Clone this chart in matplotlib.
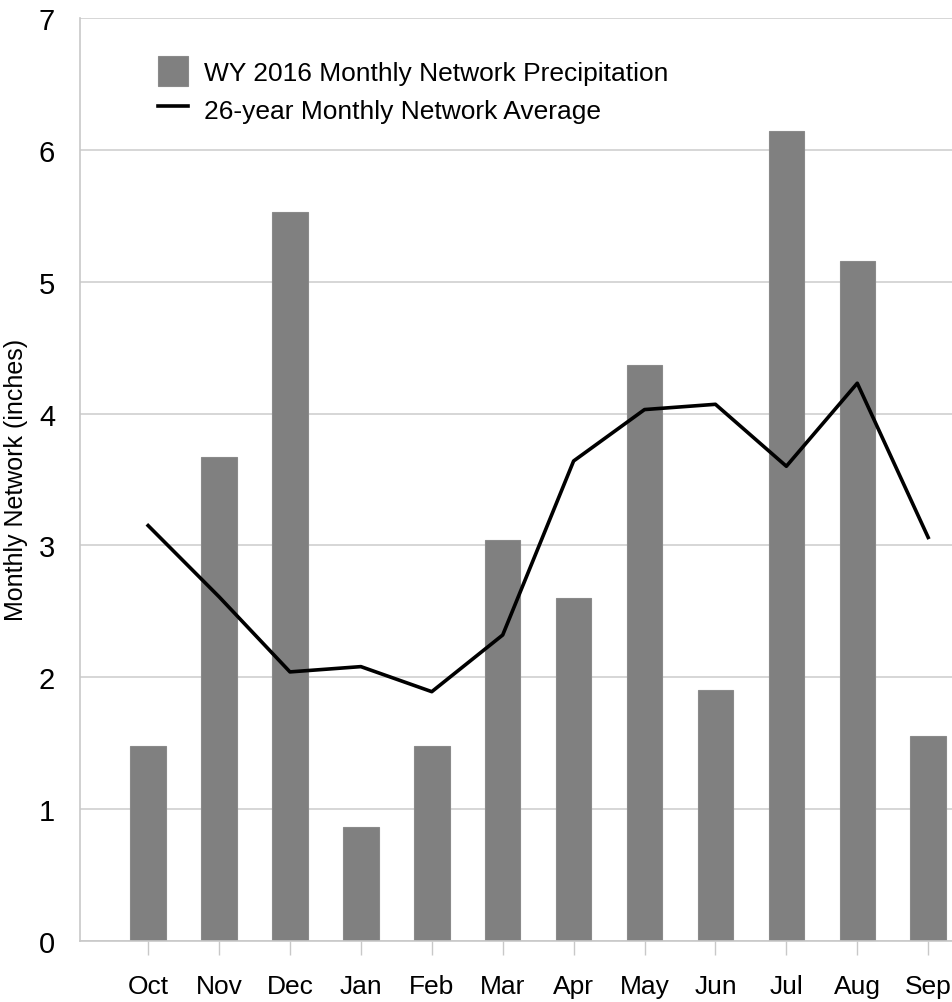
import matplotlib.pyplot as plt
import numpy as np

plt.rcParams["font.family"] = ["Liberation Sans", "DejaVu Sans"]

# ------------------------------------------------------------
# DATA
# ------------------------------------------------------------
meses = ["Oct", "Nov", "Dec", "Jan", "Feb", "Mar",
         "Apr", "May", "Jun", "Jul", "Aug", "Sep"]
wy2016 = [1.48, 3.67, 5.53, 0.86, 1.48, 3.04,
          2.60, 4.37, 1.90, 6.14, 5.16, 1.55]
media_26 = [3.15, 2.61, 2.04, 2.08, 1.89, 2.32,
            3.64, 4.03, 4.07, 3.60, 4.23, 3.06]

# ------------------------------------------------------------
# PLOT
# ------------------------------------------------------------
fig = plt.figure(figsize=(9.53, 10.03), dpi=100)
ax = fig.add_axes([0.084, 0.061, 0.916, 0.920])

x = np.arange(len(meses))

barras = ax.bar(x, wy2016, width=0.5, color="#808080", edgecolor="#8a8a8a",
                linewidth=0.8, zorder=2)
linha, = ax.plot(x, media_26, color="black", linewidth=2.6, zorder=3)

ax.set_xlim(-0.96, 11.35)
ax.set_ylim(0, 7)
ax.set_xticks(x)
ax.set_xticklabels(meses)
ax.set_yticks(range(0, 8))

ax.yaxis.grid(True, color="#d0d0d0", linewidth=1.2)
ax.set_axisbelow(True)

for s in ["top", "right"]:
    ax.spines[s].set_visible(False)
ax.spines["left"].set_color("#c8c8c8")
ax.spines["bottom"].set_color("#c8c8c8")
ax.spines["left"].set_linewidth(1.2)
ax.spines["bottom"].set_linewidth(1.2)

ax.tick_params(axis="x", length=10, width=1, color="#c8c8c8",
               labelsize=19, pad=14)
ax.tick_params(axis="y", length=0, labelsize=21, pad=18)

ax.set_ylabel("Monthly Network (inches)", fontsize=18, labelpad=8)

ax.legend([barras, linha],
          ["WY 2016 Monthly Network Precipitation",
           "26-year Monthly Network Average"],
          loc="upper left", bbox_to_anchor=(0.062, 0.985), frameon=False,
          fontsize=19, handlelength=1.15, handleheight=1.4,
          handletextpad=0.6, labelspacing=0.3)

plt.savefig("out.png", dpi=100)
plt.close()
